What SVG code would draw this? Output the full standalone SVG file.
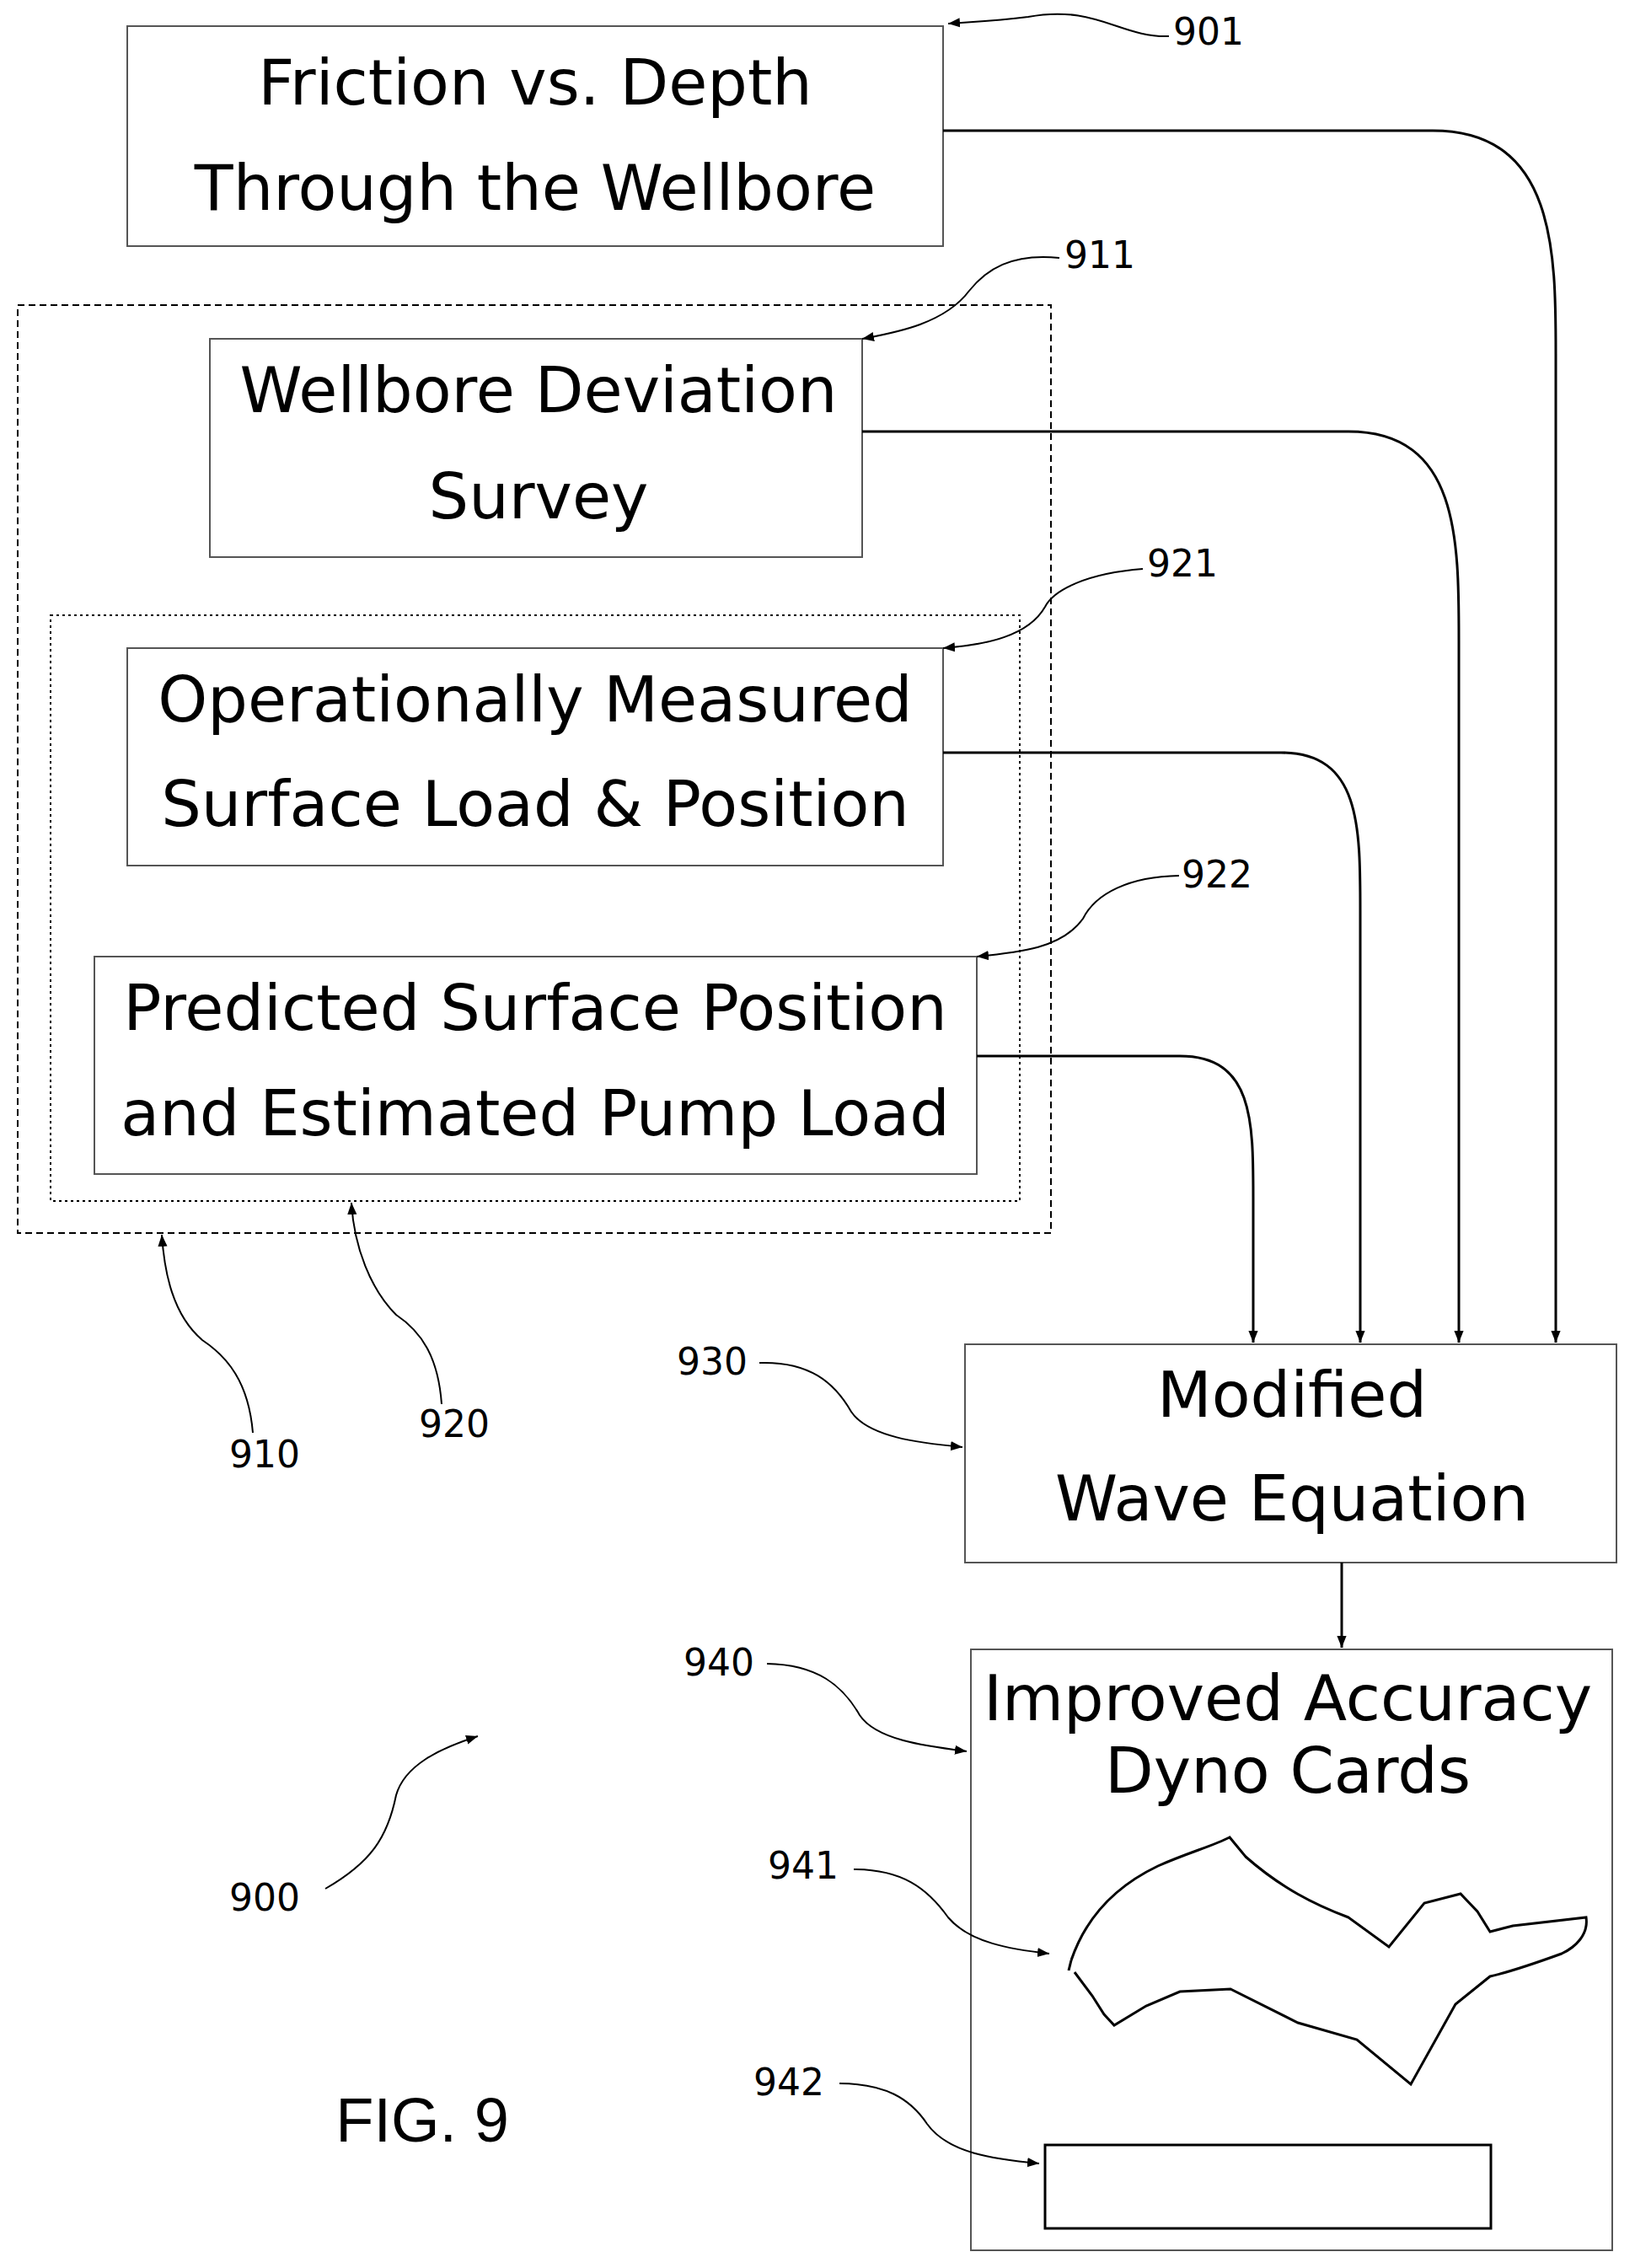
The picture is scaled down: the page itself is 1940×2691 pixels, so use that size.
<svg xmlns="http://www.w3.org/2000/svg" width="1940" height="2691" viewBox="0 0 1940 2691">
<defs>
<marker id="ah" viewBox="0 0 10 10" refX="10" refY="5" markerWidth="14" markerHeight="14" markerUnits="userSpaceOnUse" orient="auto"><path d="M0,1 L10,5 L0,9 Z" fill="#000"/></marker>
</defs>
<style>
.box{fill:#fff;stroke:#555;stroke-width:2}
.t{font-family:"DejaVu Sans",sans-serif;font-size:75px;fill:#000;text-anchor:middle}
.n{font-family:"DejaVu Sans",sans-serif;font-size:44px;fill:#000;text-anchor:middle}
.c{fill:none;stroke:#000;stroke-width:3}
.l{fill:none;stroke:#000;stroke-width:2;marker-end:url(#ah)}
.k{fill:none;stroke:#000;stroke-width:3;marker-end:url(#ah)}
</style>
<rect width="1940" height="2691" fill="#fff"/>
<g id="g910"><rect x="21" y="362" width="1226" height="1101" fill="none" stroke="#000" stroke-width="2" stroke-dasharray="8,5"/></g>
<g id="g920"><rect x="60" y="730" width="1150" height="695" fill="none" stroke="#000" stroke-width="2" stroke-dasharray="3,4"/></g>
<g id="n901"><rect class="box" x="151" y="31" width="968" height="261"/><text class="t" x="635" y="124">Friction vs. Depth</text><text class="t" x="635" y="249">Through the Wellbore</text></g>
<g id="n911"><rect class="box" x="249" y="402" width="774" height="259"/><text class="t" x="639" y="489">Wellbore Deviation</text><text class="t" x="639" y="615">Survey</text></g>
<g id="n921"><rect class="box" x="151" y="769" width="968" height="258"/><text class="t" x="635" y="856">Operationally Measured</text><text class="t" x="635" y="980">Surface Load &amp; Position</text></g>
<g id="n922"><rect class="box" x="112" y="1135" width="1047" height="258"/><text class="t" x="635" y="1222">Predicted Surface Position</text><text class="t" x="635" y="1347">and Estimated Pump Load</text></g>
<g id="n930"><rect class="box" x="1145" y="1595" width="773" height="259"/><text class="t" x="1533" y="1681">Modified</text><text class="t" x="1533" y="1804">Wave Equation</text></g>
<g id="n940"><rect class="box" x="1152" y="1957" width="761" height="713"/><text class="t" x="1528" y="2041">Improved Accuracy</text><text class="t" x="1528" y="2127">Dyno Cards</text>
<path class="c" d="M1271,2326 L1268,2338 M1271,2326 C1290,2270 1330,2235 1374,2214 C1410,2198 1440,2190 1459,2180 L1478,2203 C1520,2240 1560,2260 1600,2275 L1648,2310 L1690,2258 L1733,2247 L1753,2268 L1768,2292 L1795,2285 L1882,2275 C1885,2295 1870,2310 1853,2318 C1820,2330 1790,2340 1768,2345 L1727,2378 L1674,2473 L1610,2420 L1540,2400 L1460,2360 L1400,2363 L1360,2380 L1322,2403 L1310,2390 L1296,2368 L1275,2340"/>
<rect x="1240" y="2545" width="529" height="99" fill="none" stroke="#000" stroke-width="3"/></g>
<g id="connectors">
<path class="k" d="M1119,155 L1700,155 C1846,155 1846,300 1846,420 L1846,1593"/>
<path class="k" d="M1023,512 L1600,512 C1731,512 1731,640 1731,760 L1731,1593"/>
<path class="k" d="M1119,893 L1520,893 C1614,893 1614,980 1614,1080 L1614,1593"/>
<path class="k" d="M1159,1253 L1400,1253 C1487,1253 1487,1330 1487,1420 L1487,1593"/>
<path class="k" d="M1592,1854 L1592,1955"/>
</g>
<g id="labels">
<text class="n" x="1434" y="53">901</text><path class="l" d="M1387,43 C1330,45 1300,5 1220,20 C1180,25 1150,26 1125,28"/>
<text class="n" x="1305" y="318">911</text><path class="l" d="M1257,306 C1200,300 1170,320 1150,345 C1120,385 1060,395 1023,402"/>
<text class="n" x="1403" y="684">921</text><path class="l" d="M1356,675 C1290,680 1250,700 1240,720 C1220,755 1170,765 1119,769"/>
<text class="n" x="1444" y="1053">922</text><path class="l" d="M1399,1039 C1340,1040 1300,1060 1285,1090 C1260,1125 1210,1130 1159,1135"/>
<text class="n" x="314" y="1741">910</text><path class="l" d="M300,1700 C295,1640 270,1610 240,1590 C205,1560 195,1510 192,1465"/>
<text class="n" x="539" y="1705">920</text><path class="l" d="M524,1666 C520,1610 500,1580 470,1560 C440,1530 420,1480 417,1427"/>
<text class="n" x="845" y="1631">930</text><path class="l" d="M901,1617 C960,1615 990,1640 1010,1675 C1030,1705 1090,1712 1142,1717"/>
<text class="n" x="853" y="1988">940</text><path class="l" d="M910,1974 C970,1975 1000,2000 1020,2035 C1040,2065 1100,2072 1147,2078"/>
<text class="n" x="953" y="2229">941</text><path class="l" d="M1013,2218 C1070,2218 1100,2240 1125,2275 C1150,2305 1200,2313 1245,2318"/>
<text class="n" x="936" y="2486">942</text><path class="l" d="M996,2472 C1050,2472 1080,2490 1100,2520 C1125,2555 1180,2562 1233,2567"/>
<text class="n" x="314" y="2267">900</text><path class="l" d="M386,2241 C440,2210 460,2180 470,2130 C480,2095 520,2075 567,2060"/>
<text x="501" y="2541" font-family="Liberation Sans,sans-serif" font-size="74" text-anchor="middle">FIG. 9</text>
</g>
</svg>
